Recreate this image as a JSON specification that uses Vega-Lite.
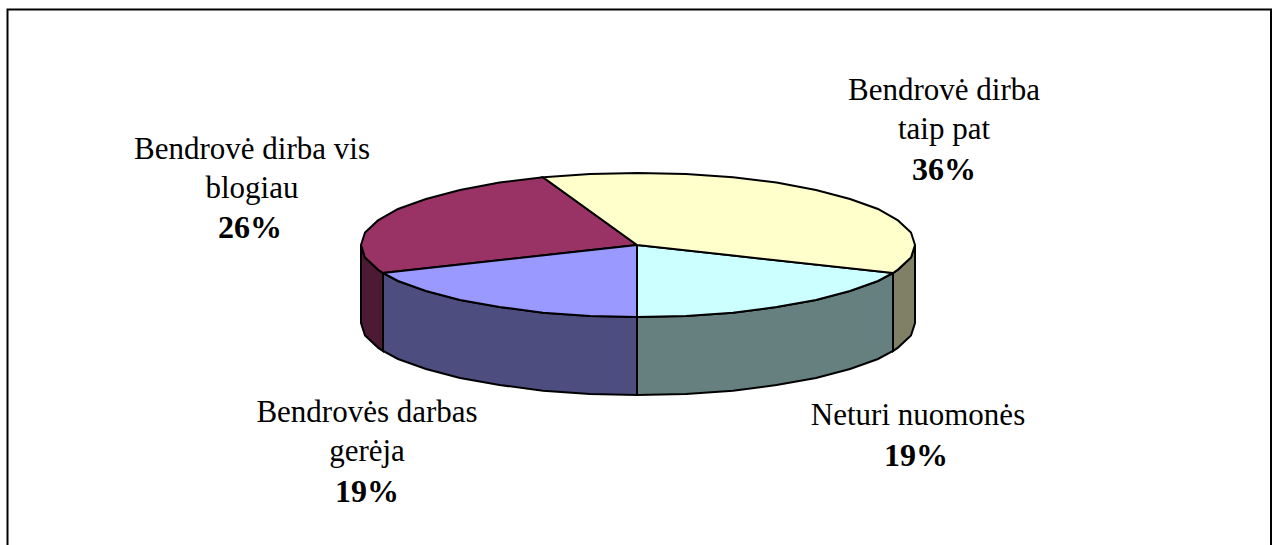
{"$schema":"https://vega.github.io/schema/vega-lite/v6.json","width":1279,"height":545,"padding":0,"autosize":{"type":"none"},"background":"white","config":{"view":{"stroke":null}},
"datasets":{
"shapes":[
{"s":"a_sideL","o":1,"x":361,"y":245},{"s":"a_sideL","o":2,"x":365,"y":257.5},{"s":"a_sideL","o":3,"x":378,"y":269.6},{"s":"a_sideL","o":4,"x":383,"y":273},{"s":"a_sideL","o":5,"x":383,"y":351},{"s":"a_sideL","o":6,"x":378,"y":347.6},{"s":"a_sideL","o":7,"x":365,"y":335.5},{"s":"a_sideL","o":8,"x":361,"y":323},{"s":"a_sideL","o":9,"x":361,"y":245},
{"s":"b_sideR","o":1,"x":915,"y":245},{"s":"b_sideR","o":2,"x":911,"y":257.5},{"s":"b_sideR","o":3,"x":898,"y":269.6},{"s":"b_sideR","o":4,"x":893,"y":273},{"s":"b_sideR","o":5,"x":893,"y":351},{"s":"b_sideR","o":6,"x":898,"y":347.6},{"s":"b_sideR","o":7,"x":911,"y":335.5},{"s":"b_sideR","o":8,"x":915,"y":323},{"s":"b_sideR","o":9,"x":915,"y":245},
{"s":"c_sideB","o":1,"x":383,"y":273},{"s":"c_sideB","o":2,"x":398,"y":281},{"s":"c_sideB","o":3,"x":426,"y":291},{"s":"c_sideB","o":4,"x":460,"y":300},{"s":"c_sideB","o":5,"x":499.5,"y":307},{"s":"c_sideB","o":6,"x":543,"y":312.7},{"s":"c_sideB","o":7,"x":590,"y":316},{"s":"c_sideB","o":8,"x":637,"y":317},{"s":"c_sideB","o":9,"x":637,"y":395},{"s":"c_sideB","o":10,"x":590,"y":394},{"s":"c_sideB","o":11,"x":543,"y":390.7},{"s":"c_sideB","o":12,"x":499.5,"y":385},{"s":"c_sideB","o":13,"x":460,"y":378},{"s":"c_sideB","o":14,"x":426,"y":369},{"s":"c_sideB","o":15,"x":398,"y":359},{"s":"c_sideB","o":16,"x":383,"y":351},{"s":"c_sideB","o":17,"x":383,"y":273},
{"s":"d_sideC","o":1,"x":893,"y":273},{"s":"d_sideC","o":2,"x":878,"y":281},{"s":"d_sideC","o":3,"x":850,"y":291},{"s":"d_sideC","o":4,"x":816,"y":300},{"s":"d_sideC","o":5,"x":776.5,"y":307},{"s":"d_sideC","o":6,"x":733,"y":312.7},{"s":"d_sideC","o":7,"x":686,"y":316},{"s":"d_sideC","o":8,"x":637,"y":317},{"s":"d_sideC","o":9,"x":637,"y":395},{"s":"d_sideC","o":10,"x":686,"y":394},{"s":"d_sideC","o":11,"x":733,"y":390.7},{"s":"d_sideC","o":12,"x":776.5,"y":385},{"s":"d_sideC","o":13,"x":816,"y":378},{"s":"d_sideC","o":14,"x":850,"y":369},{"s":"d_sideC","o":15,"x":878,"y":359},{"s":"d_sideC","o":16,"x":893,"y":351},{"s":"d_sideC","o":17,"x":893,"y":273},
{"s":"e_maroon","o":1,"x":637,"y":245},{"s":"e_maroon","o":2,"x":383,"y":273},{"s":"e_maroon","o":3,"x":378,"y":269.6},{"s":"e_maroon","o":4,"x":365,"y":257.5},{"s":"e_maroon","o":5,"x":361,"y":245},{"s":"e_maroon","o":6,"x":365,"y":232.5},{"s":"e_maroon","o":7,"x":378,"y":220.4},{"s":"e_maroon","o":8,"x":398,"y":209},{"s":"e_maroon","o":9,"x":426,"y":199},{"s":"e_maroon","o":10,"x":460,"y":190},{"s":"e_maroon","o":11,"x":499.5,"y":182.6},{"s":"e_maroon","o":12,"x":543,"y":177.3},{"s":"e_maroon","o":13,"x":637,"y":245},
{"s":"f_blue","o":1,"x":637,"y":245},{"s":"f_blue","o":2,"x":637,"y":317},{"s":"f_blue","o":3,"x":590,"y":316},{"s":"f_blue","o":4,"x":543,"y":312.7},{"s":"f_blue","o":5,"x":499.5,"y":307},{"s":"f_blue","o":6,"x":460,"y":300},{"s":"f_blue","o":7,"x":426,"y":291},{"s":"f_blue","o":8,"x":398,"y":281},{"s":"f_blue","o":9,"x":383,"y":273},{"s":"f_blue","o":10,"x":637,"y":245},
{"s":"g_cyan","o":1,"x":637,"y":245},{"s":"g_cyan","o":2,"x":893,"y":273},{"s":"g_cyan","o":3,"x":878,"y":281},{"s":"g_cyan","o":4,"x":850,"y":291},{"s":"g_cyan","o":5,"x":816,"y":300},{"s":"g_cyan","o":6,"x":776.5,"y":307},{"s":"g_cyan","o":7,"x":733,"y":312.7},{"s":"g_cyan","o":8,"x":686,"y":316},{"s":"g_cyan","o":9,"x":637,"y":317},{"s":"g_cyan","o":10,"x":637,"y":245},
{"s":"h_yellow","o":1,"x":637,"y":245},{"s":"h_yellow","o":2,"x":543,"y":177.3},{"s":"h_yellow","o":3,"x":590,"y":174},{"s":"h_yellow","o":4,"x":638,"y":173},{"s":"h_yellow","o":5,"x":686,"y":174},{"s":"h_yellow","o":6,"x":733,"y":177.3},{"s":"h_yellow","o":7,"x":776.5,"y":182.6},{"s":"h_yellow","o":8,"x":816,"y":190},{"s":"h_yellow","o":9,"x":850,"y":199},{"s":"h_yellow","o":10,"x":878,"y":209},{"s":"h_yellow","o":11,"x":898,"y":220.4},{"s":"h_yellow","o":12,"x":911,"y":232.5},{"s":"h_yellow","o":13,"x":915,"y":245},{"s":"h_yellow","o":14,"x":911,"y":257.5},{"s":"h_yellow","o":15,"x":898,"y":269.6},{"s":"h_yellow","o":16,"x":893,"y":273},{"s":"h_yellow","o":17,"x":637,"y":245}
],
"border":[{"o":1,"x":7.5,"y":545},{"o":2,"x":7.5,"y":9.5},{"o":3,"x":1271,"y":9.5},{"o":4,"x":1271,"y":545}],
"labels":[
{"t":"Bendrovė dirba","x":944,"y":91},{"t":"taip pat","x":944,"y":130},
{"t":"Bendrovė dirba vis","x":252,"y":150},{"t":"blogiau","x":252,"y":189},
{"t":"Bendrovės darbas","x":367,"y":413},{"t":"gerėja","x":367,"y":452},
{"t":"Neturi nuomonės","x":918,"y":416}],
"pct":[{"t":"36%","x":944,"y":170},{"t":"26%","x":250,"y":228},{"t":"19%","x":367,"y":492},{"t":"19%","x":916,"y":456}]
},
"layer":[
{"data":{"name":"border"},"mark":{"type":"line","stroke":"black","strokeWidth":2,"clip":false},
"encoding":{"x":{"field":"x","type":"quantitative","scale":{"domain":[0,1279]},"axis":null},"y":{"field":"y","type":"quantitative","scale":{"domain":[545,0]},"axis":null},"order":{"field":"o"}}},
{"data":{"name":"shapes"},"mark":{"type":"line","stroke":"black","strokeWidth":2},
"encoding":{"x":{"field":"x","type":"quantitative","scale":{"domain":[0,1279]},"axis":null},"y":{"field":"y","type":"quantitative","scale":{"domain":[545,0]},"axis":null},"order":{"field":"o"},
"fill":{"field":"s","type":"nominal","legend":null,"scale":{"domain":["a_sideL","b_sideR","c_sideB","d_sideC","e_maroon","f_blue","g_cyan","h_yellow"],"range":["#4D1A33","#808066","#4D4D80","#668080","#993366","#9999FF","#CCFFFF","#FFFFCC"]}}}},
{"data":{"name":"labels"},"mark":{"type":"text","font":"Liberation Serif","fontSize":31,"color":"#000000","align":"center","baseline":"middle"},
"encoding":{"x":{"field":"x","type":"quantitative","scale":{"domain":[0,1279]},"axis":null},"y":{"field":"y","type":"quantitative","scale":{"domain":[545,0]},"axis":null},"text":{"field":"t"}}},
{"data":{"name":"pct"},"mark":{"type":"text","font":"Liberation Serif","fontSize":32,"fontWeight":"bold","color":"#000000","align":"center","baseline":"middle"},
"encoding":{"x":{"field":"x","type":"quantitative","scale":{"domain":[0,1279]},"axis":null},"y":{"field":"y","type":"quantitative","scale":{"domain":[545,0]},"axis":null},"text":{"field":"t"}}}
]}
